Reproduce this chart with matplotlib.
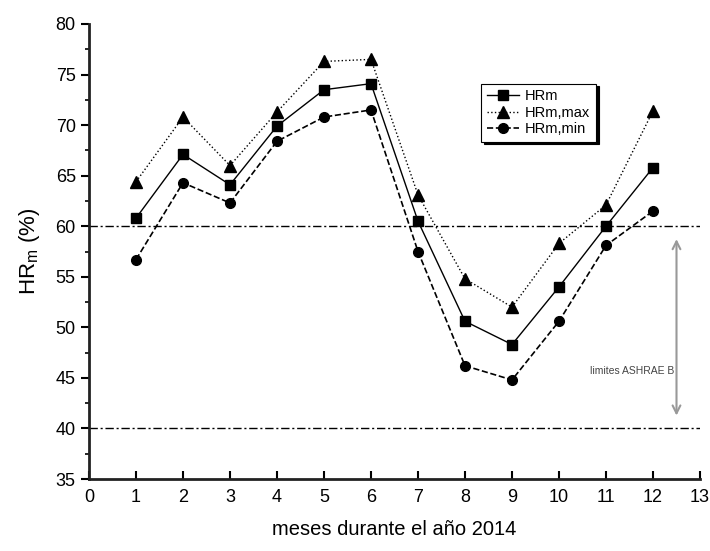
import matplotlib
matplotlib.use("Agg")
import matplotlib.pyplot as plt
from matplotlib.ticker import MultipleLocator

plt.rcParams['font.family'] = ['Liberation Sans', 'DejaVu Sans']

months = [1, 2, 3, 4, 5, 6, 7, 8, 9, 10, 11, 12]
hrm = [60.8, 67.1, 64.1, 69.9, 73.5, 74.1, 60.5, 50.6, 48.3, 54.0, 60.0, 65.8]
hrm_max = [64.4, 70.8, 66.0, 71.3, 76.3, 76.5, 63.1, 54.8, 52.0, 58.3, 62.1, 71.4]
hrm_min = [56.7, 64.3, 62.3, 68.4, 70.8, 71.5, 57.5, 46.2, 44.8, 50.6, 58.1, 61.5]
limit_upper = 60
limit_lower = 40

fig = plt.figure(figsize=(7.10, 5.51), dpi=100)
ax = fig.add_axes([89/710, 1-479/551, (700-89)/710, (479-24)/551])

ax.plot(months, hrm, '-', color='black', lw=1.0, marker='s', ms=7, label='HRm')
ax.plot(months, hrm_max, ':', color='black', lw=1.0, marker='^', ms=8, label='HRm,max')
ax.plot(months, hrm_min, '--', color='black', lw=1.2, marker='o', ms=7, label='HRm,min')

ax.axhline(limit_upper, color='black', lw=1.0, ls='-.', dashes=(6, 2, 1.5, 2))
ax.axhline(limit_lower, color='black', lw=1.0, ls='-.', dashes=(6, 2, 1.5, 2))

ax.annotate('', xy=(12.5, 41.0), xytext=(12.5, 59.0),
            arrowprops=dict(arrowstyle='<->', color='#999999', lw=1.5,
                            mutation_scale=14))
ax.text(12.45, 45.7, 'limites ASHRAE B', ha='right', va='center',
        fontsize=7.5, color='#444444')

ax.set_xlim(0, 13)
ax.set_ylim(35, 80)
ax.xaxis.set_major_locator(MultipleLocator(1))
ax.yaxis.set_major_locator(MultipleLocator(5))
ax.yaxis.set_minor_locator(MultipleLocator(2.5))

for s in ['top', 'right']:
    ax.spines[s].set_visible(False)
for s in ['left', 'bottom']:
    ax.spines[s].set_linewidth(2.0)
    ax.spines[s].set_color('#222222')

ax.tick_params(axis='x', direction='in', length=6, width=1.5, labelsize=13, pad=7)
ax.tick_params(axis='y', which='major', direction='out', length=6, width=1.5, labelsize=13)
ax.tick_params(axis='y', which='minor', direction='out', length=3, width=1.2)

ax.set_xlabel('meses durante el año 2014', fontsize=14.5, labelpad=10)
ax.set_ylabel('HR$_{\\mathregular{m}}$ (%)', fontsize=16, labelpad=10)

leg = ax.legend(loc='upper left', bbox_to_anchor=(0.63, 0.885), fontsize=10.5,
                frameon=True, fancybox=False, shadow={'color': 'black', 'alpha': 1},
                edgecolor='black', handlelength=2.2, borderpad=0.4,
                labelspacing=0.15, handletextpad=0.4)
leg.get_frame().set_linewidth(0.8)

fig.savefig('out.png', dpi=100)
